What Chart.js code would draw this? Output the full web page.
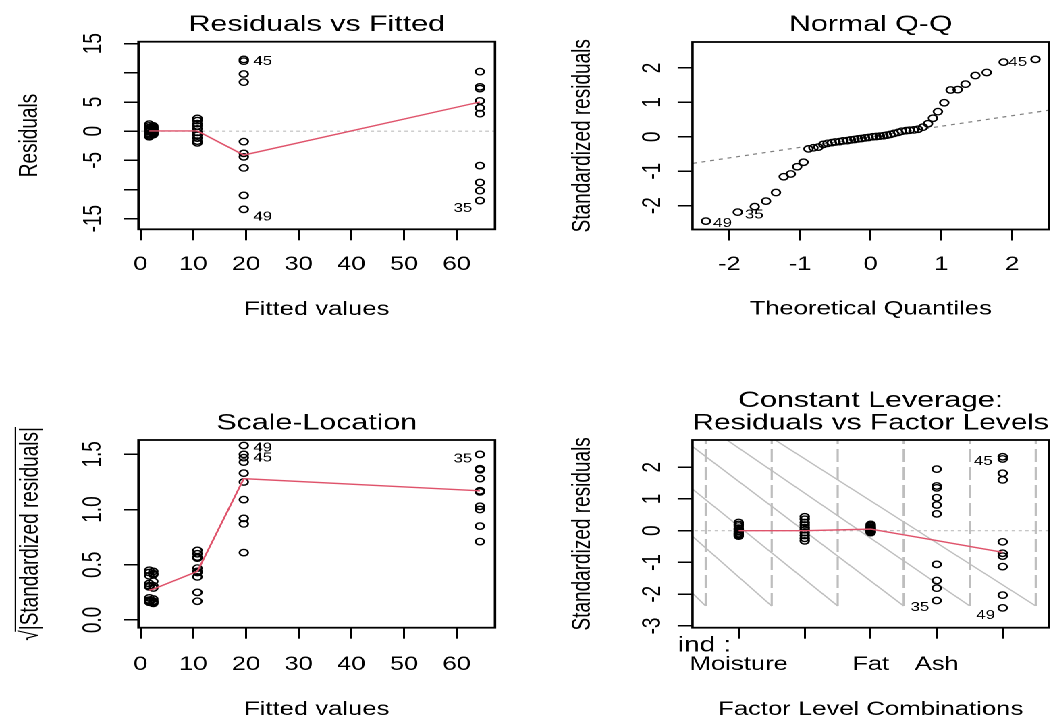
<!DOCTYPE html>
<html>
<head>
<meta charset="utf-8">
<script src="https://cdn.jsdelivr.net/npm/chart.js@4.4.1/dist/chart.umd.min.js"></script>
<style>
  html, body { margin: 0; padding: 0; background: #ffffff; overflow: hidden; width: 1061px; height: 721px; }
  #wrap { position: absolute; left: 0; top: 0; width: 786px; height: 721px; transform: scaleX(1.35); transform-origin: 0 0; }
  #wrap canvas { position: absolute; }
</style>
</head>
<body>
<div id="wrap">
  <canvas id="cRvf" width="393" height="360" style="left:0px;top:0px"></canvas>
  <canvas id="cQq"  width="393" height="360" style="left:393px;top:0px"></canvas>
  <canvas id="cSl"  width="393" height="361" style="left:0px;top:360px"></canvas>
  <canvas id="cRvl" width="393" height="361" style="left:393px;top:360px"></canvas>
</div>
<script>
// ======================= DATA =======================
// factor levels of "ind" (labels that are visible on the factor axis)
const levelLabels = ["Moisture", "", "Fat", "Ash", ""];
const levelPositions = [1, 2, 3, 4, 5];
// fitted value of each level
const fittedByLevel = [1.67, 10.8, 2.43, 64.4, 19.6];

// Residuals vs Fitted : residuals per level
const residMoisture = [1.2, 0.9, 0.6, 0.4, 0.1, -0.1, -0.4, -0.6, -0.8, -0.95];
const residLevel2   = [2.2, 1.8, 1.3, 0.9, 0.4, -0.2, -0.7, -1.2, -1.7, -2.0];
const residFat      = [0.9, 0.7, 0.5, 0.3, 0.15, 0.0, -0.15, -0.3, -0.45, -0.6];
const residAsh      = [10.2, 7.6, 7.3, 5.2, 4.0, 3.0, -5.9, -8.8, -10.2, -11.9];
const residLevel5   = [12.3, 12.0, 9.8, 8.4, -1.8, -3.8, -4.4, -6.3, -11.0, -13.4];
const rvfSmoothX = [1.67, 2.43, 10.8, 19.6, 64.4];
const rvfSmoothY = [0.05, 0.05, 0.05, -4.1, 5.0];
const rvfXTicks = [0, 10, 20, 30, 40, 50, 60];
const rvfXLabels = ["0", "10", "20", "30", "40", "50", "60"];
const rvfYTicks = [-15, -10, -5, 0, 5, 10, 15];
const rvfYLabels = ["-15", "", "-5", "0", "5", "", "15"];

// Normal Q-Q
const qqTheoretical = [-2.33, -1.88, -1.64, -1.48, -1.34, -1.23, -1.13, -1.04, -0.95, -0.88,
  -0.81, -0.74, -0.67, -0.61, -0.55, -0.50, -0.44, -0.39, -0.33, -0.28,
  -0.23, -0.18, -0.13, -0.08, -0.03, 0.03, 0.08, 0.13, 0.18, 0.23,
  0.28, 0.33, 0.39, 0.44, 0.50, 0.55, 0.61, 0.67, 0.74, 0.81,
  0.88, 0.95, 1.04, 1.13, 1.23, 1.34, 1.48, 1.64, 1.88, 2.33];
const qqStdResid = [-2.45, -2.19, -2.03, -1.87, -1.62, -1.16, -1.08, -0.87, -0.74, -0.35,
  -0.32, -0.30, -0.22, -0.19, -0.17, -0.15, -0.14, -0.12, -0.11, -0.09,
  -0.08, -0.06, -0.05, -0.03, -0.02, 0.00, 0.01, 0.02, 0.03, 0.05,
  0.07, 0.10, 0.13, 0.16, 0.18, 0.19, 0.20, 0.22, 0.28, 0.38,
  0.54, 0.73, 0.99, 1.36, 1.37, 1.53, 1.78, 1.87, 2.17, 2.25];
const qqLineX = [-3, 3];
const qqLineY = [-0.92, 0.92];
const qqTicks = [-2, -1, 0, 1, 2];
const qqLabels = ["-2", "-1", "0", "1", "2"];

// Scale-Location : sqrt(|standardized residuals|) per level
const slMoisture = [0.45, 0.43, 0.40, 0.33, 0.30, 0.20, 0.18, 0.16, 0.17, 0.31];
const slLevel2   = [0.63, 0.60, 0.57, 0.56, 0.47, 0.44, 0.43, 0.39, 0.25, 0.17];
const slFat      = [0.44, 0.42, 0.41, 0.35, 0.31, 0.29, 0.19, 0.17, 0.16, 0.15];
const slAsh      = [1.50, 1.37, 1.36, 1.28, 1.17, 1.16, 1.03, 1.00, 0.85, 0.71];
const slLevel5   = [1.58, 1.50, 1.47, 1.43, 1.33, 1.25, 1.09, 0.92, 0.87, 0.61];
const slSmoothY  = [0.27, 0.28, 0.44, 1.28, 1.17];
const slYTicks = [0, 0.5, 1, 1.5];
const slYLabels = ["0.0", "0.5", "1.0", "1.5"];

// Residuals vs Factor Levels : standardized residuals per level
const stdMoisture = [0.26, 0.20, 0.15, 0.08, 0.03, -0.02, -0.07, -0.11, -0.14, -0.17];
const stdLevel2   = [0.44, 0.36, 0.26, 0.18, 0.10, 0.03, -0.06, -0.15, -0.24, -0.32];
const stdFat      = [0.20, 0.16, 0.12, 0.09, 0.06, 0.03, 0.01, -0.02, -0.04, -0.06];
const stdAsh      = [1.94, 1.41, 1.35, 1.04, 0.81, 0.53, -1.06, -1.57, -1.81, -2.20];
const stdLevel5   = [2.33, 2.26, 1.81, 1.60, -0.35, -0.71, -0.80, -1.13, -2.03, -2.43];
const rvlSmoothY  = [0.0, 0.0, 0.05, -0.31, -0.68];
const rvlYTicks = [-3, -2, -1, 0, 1, 2];
const rvlYLabels = ["-3", "-2", "-1", "0", "1", "2"];
const levelSepX = [0.5, 1.5, 2.5, 3.5, 4.5, 5.5];
const levelSepBottom = -2.37;
const levelSepTop = 3.2;
const diagStartX = [0.30, 0.30, 0.30, 0.30, 0.82, 1.55];
const diagStartY = [-1.97, -0.18, 1.31, 2.65, 2.86, 2.86];
const diagEndX   = [0.5, 1.5, 2.5, 3.5, 4.5, 5.5];
const diagEndY   = [-2.37, -2.37, -2.37, -2.37, -2.37, -2.37];

// observation ids shown next to points: [level index, point index, id]
const rvfIds = [[4, 1, "45"], [4, 9, "49"], [3, 9, "35"]];
const qqIds  = [[0, "49"], [1, "35"], [48, "45"]];
const slIds  = [[4, 0, "49"], [4, 1, "45"], [3, 0, "35"]];
const rvlIds = [[4, 1, "45"], [3, 9, "35"], [4, 9, "49"]];

// ======================= STYLE / HELPERS =======================
const FONT = "'Liberation Sans', Arial, Helvetica, sans-serif";
const RED = '#DF536B';
const LGRAY = '#BEBEBE';
const ROT_SX = 1.0;

const zip = (xs, ys) => xs.map((x, i) => ({ x: x, y: ys[i] }));
const constX = (x, ys) => ys.map(y => ({ x: x, y: y }));

function pointsDs(data) {
  return { data: data, showLine: false, pointStyle: 'circle', pointRadius: 3.2, pointBorderWidth: 1.35,
           borderColor: '#000', backgroundColor: 'rgba(0,0,0,0)', order: 1 };
}
function lineDs(data, color, width, dash, order) {
  return { data: data, showLine: true, pointRadius: 0, borderColor: color, backgroundColor: color,
           borderWidth: width, borderDash: dash || [], order: order, tension: 0 };
}

const boxPlugin = {
  id: 'rbox',
  afterDatasetsDraw(chart) {
    const ctx = chart.ctx, a = chart.chartArea;
    ctx.save();
    ctx.strokeStyle = '#000';
    ctx.lineWidth = 1.8;
    ctx.strokeRect(a.left, a.top, a.right - a.left, a.bottom - a.top);
    ctx.restore();
  }
};

function rotText(ctx, text, x, y) {
  ctx.save();
  ctx.translate(x, y);
  ctx.scale(ROT_SX, 1);
  ctx.rotate(-Math.PI / 2);
  ctx.textAlign = 'center';
  ctx.textBaseline = 'middle';
  ctx.fillText(text, 0, 0);
  ctx.restore();
}

function yTextPlugin(cfg) {
  return {
    id: 'ytext',
    afterDraw(chart) {
      const ctx = chart.ctx, a = chart.chartArea, ys = chart.scales.y;
      ctx.save();
      ctx.fillStyle = '#000';
      ctx.font = '19px ' + FONT;
      cfg.ticks.forEach((v, i) => {
        const t = cfg.labels[i];
        if (t) rotText(ctx, t, a.left + cfg.labelDx, ys.getPixelForValue(v));
      });
      const yc = (a.top + a.bottom) / 2;
      rotText(ctx, cfg.title, cfg.titleX, yc);
      if (cfg.radical) {
        const w = ctx.measureText(cfg.title).width;
        const ws = ctx.measureText('\u221A').width;
        ctx.translate(cfg.titleX, yc);
        ctx.scale(ROT_SX, 1);
        ctx.rotate(-Math.PI / 2);
        ctx.strokeStyle = '#000';
        ctx.lineWidth = 1;
        ctx.beginPath();
        ctx.moveTo(-w / 2 + ws * 0.85, -11.6);
        ctx.lineTo(w / 2, -11.6);
        ctx.stroke();
      }
      ctx.restore();
    }
  };
}

function idPlugin(items) {
  return {
    id: 'ids',
    afterDatasetsDraw(chart) {
      const ctx = chart.ctx;
      ctx.save();
      ctx.fillStyle = '#000';
      ctx.font = '12.5px ' + FONT;
      ctx.textBaseline = 'middle';
      items.forEach(it => {
        const el = chart.getDatasetMeta(it.ds).data[it.i];
        if (!el) return;
        ctx.textAlign = it.dx < 0 ? 'right' : 'left';
        ctx.fillText(it.text, el.x + it.dx, el.y + it.dy);
      });
      ctx.restore();
    }
  };
}

const indPlugin = {
  id: 'indtext',
  afterDraw(chart) {
    const ctx = chart.ctx, a = chart.chartArea;
    ctx.save();
    ctx.fillStyle = '#000';
    ctx.font = '21px ' + FONT;
    ctx.textAlign = 'left';
    ctx.textBaseline = 'middle';
    ctx.fillText('ind :', a.left - 11, a.bottom + 18);
    ctx.restore();
  }
};

function makeChart(id, o) {
  const grid = { display: true, drawOnChartArea: false, drawTicks: true, tickLength: 11, color: '#000', lineWidth: 1.5 };
  return new Chart(document.getElementById(id), {
    type: 'scatter',
    data: { datasets: o.datasets },
    options: {
      responsive: false, animation: false, events: [], devicePixelRatio: 2,
      layout: { padding: { left: 0, top: 0, right: o.W - o.R, bottom: 0 } },
      plugins: {
        legend: { display: false },
        tooltip: { enabled: false },
        title: { display: true, text: o.title, fullSize: false, color: '#000',
                 font: { family: FONT, size: 22.5, weight: 'normal', lineHeight: o.titleLH },
                 padding: { top: o.titlePT, bottom: o.titlePB } }
      },
      scales: {
        x: {
          type: 'linear', position: 'bottom', min: o.xMin, max: o.xMax,
          afterBuildTicks: s => { s.ticks = o.xTicks.map(v => ({ value: v })); },
          afterFit: s => { s.height = o.H - o.B; },
          grid: grid, border: { display: false },
          ticks: { color: '#000', font: { family: FONT, size: 19 }, padding: o.xTickPad,
                   autoSkip: false, maxRotation: 0, minRotation: 0,
                   callback: (v) => { const k = o.xTicks.indexOf(v); return k >= 0 ? o.xLabels[k] : ''; } },
          title: { display: true, text: o.xTitle, color: '#000', font: { family: FONT, size: 19 },
                   padding: { top: 0, bottom: o.xTitlePB } }
        },
        y: {
          type: 'linear', position: 'left', min: o.yMin, max: o.yMax,
          afterBuildTicks: s => { s.ticks = o.yTicks.map(v => ({ value: v })); },
          afterFit: s => { s.width = o.L; },
          grid: grid, border: { display: false },
          ticks: { display: false },
          title: { display: false }
        }
      }
    },
    plugins: [boxPlugin,
              yTextPlugin({ ticks: o.yTicks, labels: o.yLabels, labelDx: o.yLabelDx, title: o.yTitle,
                            titleX: o.yTitleX, radical: !!o.radical }),
              idPlugin(o.ids)].concat(o.extra || [])
  });
}

// ======================= PANEL 1 : Residuals vs Fitted =======================
const residByLevel = [residMoisture, residLevel2, residFat, residAsh, residLevel5];
const rvfSets = [lineDs(zip(rvfSmoothX, rvfSmoothY), RED, 1.4, [], 0)];
residByLevel.forEach((r, k) => rvfSets.push(pointsDs(constX(fittedByLevel[k], r))));
rvfSets.push(lineDs([{ x: -5, y: 0 }, { x: 75, y: 0 }], LGRAY, 1.2, [2.5, 2.5], 2));
makeChart('cRvf', {
  W: 393, H: 360, L: 102.59, R: 366.67, B: 229.3,
  title: 'Residuals vs Fitted', titleLH: 1.2, titlePT: 11.2, titlePB: 3.5,
  xMin: -0.38, xMax: 67.27, yMin: -16.82, yMax: 15.34,
  xTicks: rvfXTicks, xLabels: rvfXLabels, xTickPad: 13.3, xTitle: 'Fitted values', xTitlePB: 38.6,
  yTicks: rvfYTicks, yLabels: rvfYLabels, yLabelDx: -32.6, yTitle: 'Residuals', yTitleX: 22.3,
  datasets: rvfSets,
  ids: [{ ds: 1 + rvfIds[0][0], i: rvfIds[0][1], text: rvfIds[0][2], dx: 7.1, dy: 0.5 },
        { ds: 1 + rvfIds[1][0], i: rvfIds[1][1], text: rvfIds[1][2], dx: 7.1, dy: 7.9 },
        { ds: 1 + rvfIds[2][0], i: rvfIds[2][1], text: rvfIds[2][2], dx: -5.6, dy: 7.7 }]
});

// ======================= PANEL 2 : Normal Q-Q =======================
makeChart('cQq', {
  W: 393, H: 360, L: 119.96, R: 383.96, B: 229.5,
  title: 'Normal Q-Q', titleLH: 1.2, titlePT: 11.5, titlePB: 3.5,
  xMin: -2.52, xMax: 2.52, yMin: -2.694, yMax: 2.755,
  xTicks: qqTicks, xLabels: qqLabels, xTickPad: 13.1, xTitle: 'Theoretical Quantiles', xTitlePB: 39.4,
  yTicks: qqTicks, yLabels: qqLabels, yLabelDx: -29.4, yTitle: 'Standardized residuals', yTitleX: 39.0,
  datasets: [pointsDs(zip(qqTheoretical, qqStdResid)),
             lineDs(zip(qqLineX, qqLineY), '#7F7F7F', 1.2, [3, 3.5], 2)],
  ids: qqIds.map((q, k) => ({ ds: 0, i: q[0], text: q[1], dx: [5.4, 5.3, 3.5][k], dy: [2.2, 2.8, 0.2][k] }))
});

// ======================= PANEL 3 : Scale-Location =======================
const slByLevel = [slMoisture, slLevel2, slFat, slAsh, slLevel5];
const slSets = [lineDs(zip(rvfSmoothX, slSmoothY), RED, 1.4, [], 0)];
slByLevel.forEach((r, k) => slSets.push(pointsDs(constX(fittedByLevel[k], r))));
makeChart('cSl', {
  W: 393, H: 361, L: 102.59, R: 366.67, B: 267.7,
  title: 'Scale-Location', titleLH: 1.2, titlePT: 49.8, titlePB: 3.2,
  xMin: -0.38, xMax: 67.27, yMin: -0.07, yMax: 1.63,
  xTicks: rvfXTicks, xLabels: rvfXLabels, xTickPad: 14.9, xTitle: 'Fitted values', xTitlePB: 0,
  yTicks: slYTicks, yLabels: slYLabels, yLabelDx: -33.3,
  yTitle: '\u221A|Standardized residuals|', yTitleX: 23, radical: true,
  datasets: slSets,
  ids: [{ ds: 1 + slIds[0][0], i: slIds[0][1], text: slIds[0][2], dx: 7.1, dy: 2.7 },
        { ds: 1 + slIds[1][0], i: slIds[1][1], text: slIds[1][2], dx: 7.1, dy: 3.9 },
        { ds: 1 + slIds[2][0], i: slIds[2][1], text: slIds[2][2], dx: -5.6, dy: 4.6 }]
});

// ======================= PANEL 4 : Residuals vs Factor Levels =======================
const stdByLevel = [stdMoisture, stdLevel2, stdFat, stdAsh, stdLevel5];
const rvlSets = [lineDs(zip(levelPositions, rvlSmoothY), RED, 1.4, [], 0)];
stdByLevel.forEach((r, k) => rvlSets.push(pointsDs(constX(levelPositions[k], r))));
rvlSets.push(lineDs([{ x: -1, y: 0 }, { x: 7, y: 0 }], LGRAY, 1.2, [2.5, 2.5], 2));
levelSepX.forEach(x => rvlSets.push(lineDs([{ x: x, y: levelSepBottom }, { x: x, y: levelSepTop }], LGRAY, 1.6, [13, 5], 3)));
diagStartX.forEach((x, k) => rvlSets.push(lineDs([{ x: x, y: diagStartY[k] }, { x: diagEndX[k], y: diagEndY[k] }], LGRAY, 1.2, [], 3)));
makeChart('cRvl', {
  W: 393, H: 361, L: 119.96, R: 383.96, B: 267.7,
  title: ['Constant Leverage:', 'Residuals vs Factor Levels'], titleLH: 1.0, titlePT: 29.55, titlePB: 5.45,
  xMin: 0.30, xMax: 5.70, yMin: -3.055, yMax: 2.857,
  xTicks: levelPositions, xLabels: levelLabels, xTickPad: 14.9, xTitle: 'Factor Level Combinations', xTitlePB: 0,
  yTicks: rvlYTicks, yLabels: rvlYLabels, yLabelDx: -29.4, yTitle: 'Standardized residuals', yTitleX: 39.0,
  datasets: rvlSets,
  ids: [{ ds: 1 + rvlIds[0][0], i: rvlIds[0][1], text: rvlIds[0][2], dx: -7.4, dy: 2.8 },
        { ds: 1 + rvlIds[1][0], i: rvlIds[1][1], text: rvlIds[1][2], dx: -5.5, dy: 7.1 },
        { ds: 1 + rvlIds[2][0], i: rvlIds[2][1], text: rvlIds[2][2], dx: -5.7, dy: 7.8 }],
  extra: [indPlugin]
});
</script>
</body>
</html>
